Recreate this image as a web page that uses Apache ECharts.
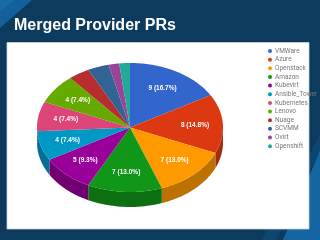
<!DOCTYPE html>
<html>
<head>
<meta charset="utf-8">
<script src="https://cdn.jsdelivr.net/npm/echarts@6/dist/echarts.min.js"></script>
<style>html,body{margin:0;padding:0;background:#0d3b5d}#c{width:320px;height:240px}</style>
</head>
<body>
<div id="c"></div>
<script>
const titleText = 'Merged Provider PRs';
const categories = ['VMWare','Azure','Openstack','Amazon','Kubevirt','Ansible_Tower','Kubernetes','Lenovo','Nuage','SCVMM','Ovirt','Openshift'];
const values = [9, 8, 7, 7, 5, 4, 4, 4, 2, 2, 1, 1];
const colors = ['#3366cc','#dc3912','#ff9900','#109618','#990099','#0099c6','#dd4477','#66aa00','#b82e2e','#316395','#994499','#22aa99'];

const total = values.reduce((a, b) => a + b, 0);
const CX = 130, CY = 127.5, RX = 93, RY = 64.5, DEPTH = 15;

function darken(hex, f) {
  const n = parseInt(hex.slice(1), 16);
  const r = Math.round(((n >> 16) & 255) * f), g = Math.round(((n >> 8) & 255) * f), b = Math.round((n & 255) * f);
  return 'rgb(' + r + ',' + g + ',' + b + ')';
}
function pt(theta, dy) {
  return [CX + RX * Math.sin(theta), CY - RY * Math.cos(theta) + (dy || 0)];
}
function arcPts(a, b, dy) {
  const pts = [];
  const steps = Math.max(4, Math.ceil((b - a) / 0.02));
  for (let i = 0; i <= steps; i++) pts.push(pt(a + (b - a) * i / steps, dy));
  return pts;
}

function makeRender(k) {
  return function (params, api) {
    const v = api.value(0);
    let before = 0;
    for (let i = 0; i < k; i++) before += values[i];
    const a = before / total * Math.PI * 2;
    const b = (before + v) / total * Math.PI * 2;
    const children = [];
    const sa = Math.max(a, Math.PI / 2), sb = Math.min(b, Math.PI * 1.5);
    if (sb > sa) {
      const top = arcPts(sa, sb, 0);
      const bot = arcPts(sa, sb, DEPTH).reverse();
      children.push({ type: 'polygon', shape: { points: top.concat(bot) }, style: { fill: darken(colors[k], 0.74) } });
    }
    const face = [[CX, CY]].concat(arcPts(a, b, 0));
    children.push({ type: 'polygon', shape: { points: face }, style: { fill: colors[k] } });
    const pct = v / total * 100;
    if (pct > 5) {
      const m = (a + b) / 2;
      const lp = [CX + RX * 0.7 * Math.sin(m), CY - RY * 0.7 * Math.cos(m)];
      children.push({ type: 'text', x: lp[0], y: lp[1], style: {
        text: v + ' (' + pct.toFixed(1) + '%)', fill: '#ffffff', fontSize: 6.5, fontWeight: 'bold',
        fontFamily: 'Liberation Sans, Arial, sans-serif', align: 'center', verticalAlign: 'middle' } });
    }
    return { type: 'group', children: children };
  };
}

const chart = echarts.init(document.getElementById('c'), null, { renderer: 'canvas' });
chart.setOption({
  animation: false,
  color: colors,
  backgroundColor: '#0d3b5d',
  graphic: [
    { type: 'polygon', z: -10, shape: { points: [[0,0],[32,0],[0,28]] }, style: { fill: '#14609a' } },
    { type: 'polygon', z: -10, shape: { points: [[0,0],[14,0],[0,12]] }, style: { fill: '#1a6aa6' } },
    { type: 'polygon', z: -10, shape: { points: [[320,135],[320,150],[276,240],[262,240]] }, style: { fill: '#0f4670' } },
    { type: 'polygon', z: -10, shape: { points: [[320,150],[320,240],[283,240]] }, style: { fill: '#1565a3' } },
    { type: 'rect', z: -5, shape: { x: 7, y: 42.5, width: 302, height: 186.5 }, style: { fill: '#ffffff', stroke: '#c8d4de', lineWidth: 0.8 } },
    { type: 'text', z: 5, left: 14, top: 18, style: { text: titleText, fill: '#ffffff', fontSize: 16, fontWeight: 'bold', fontFamily: 'Liberation Sans, Arial, sans-serif' } }
  ],
  legend: {
    orient: 'vertical', left: 263, top: 42,
    icon: 'circle', itemWidth: 4, itemHeight: 4, itemGap: 0.65,
    textStyle: { fontSize: 6.5, lineHeight: 8, color: '#777777', fontFamily: 'Roboto, Arial, sans-serif', padding: [0, 0, 0, -2] },
    data: categories
  },
  series: categories.map((name, k) => ({
    type: 'custom', name: name, coordinateSystem: 'none',
    itemStyle: { color: colors[k] },
    renderItem: makeRender(k),
    data: [[values[k]]]
  }))
});
</script>
</body>
</html>
